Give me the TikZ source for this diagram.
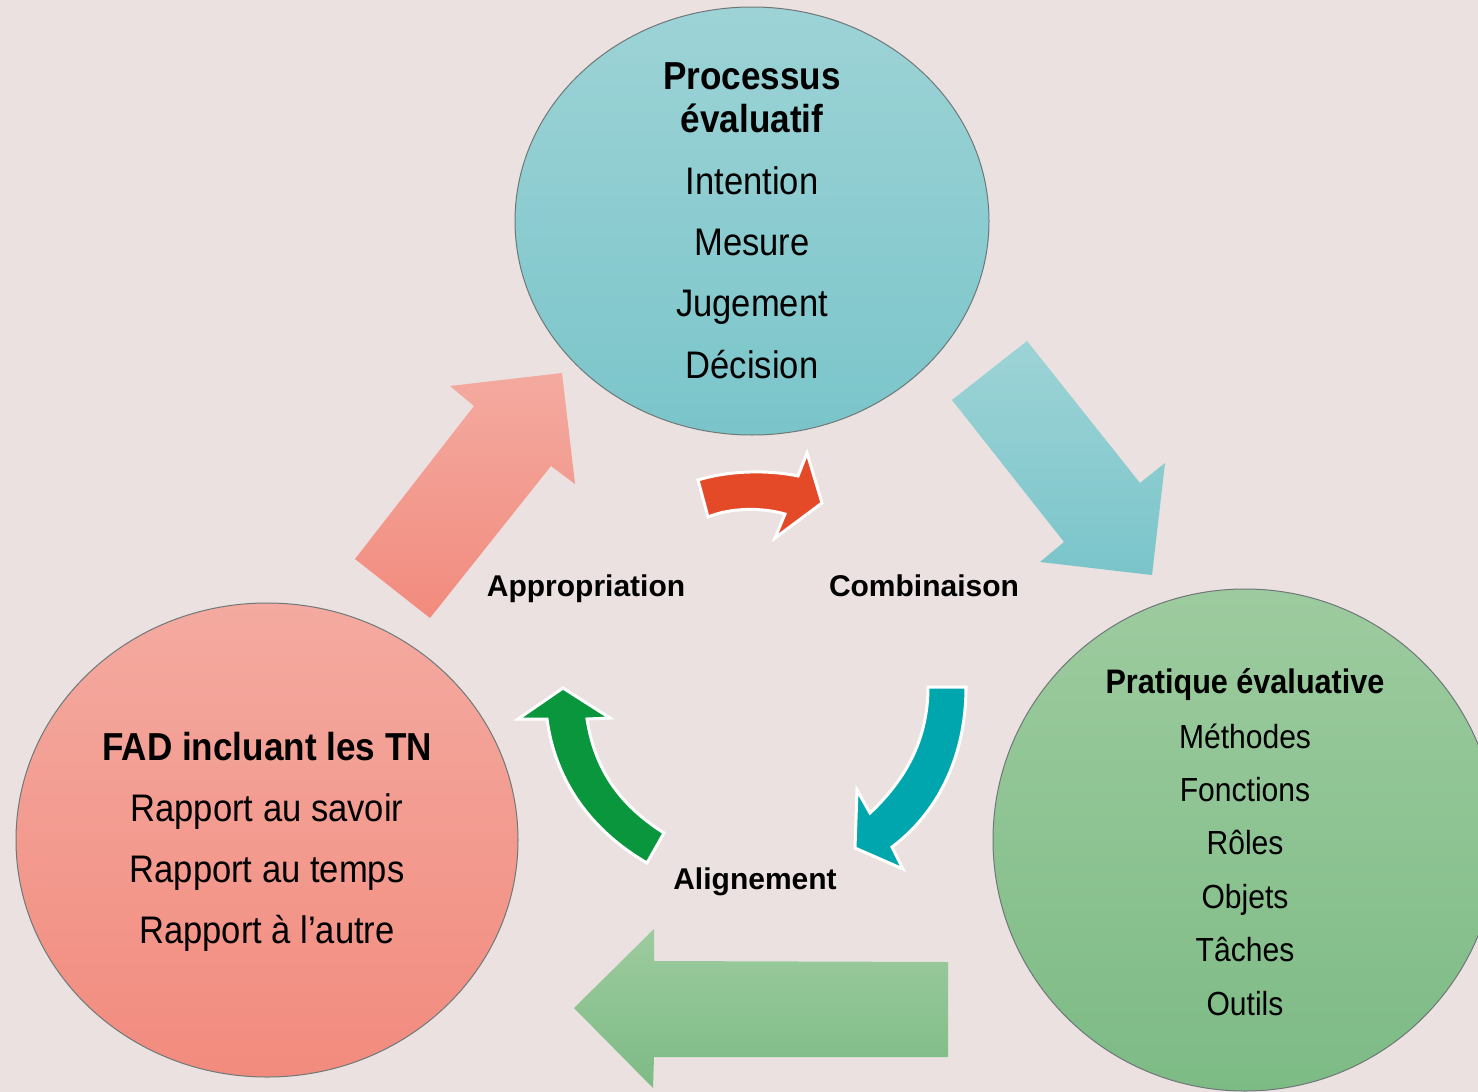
\documentclass[tikz,border=0pt]{standalone}
\usepackage{fontspec}
\setmainfont{Liberation Sans}
\newfontfamily\narrowfont[FakeStretch=0.9]{Liberation Sans}
\newfontfamily\labelfont{Liberation Sans}
\definecolor{bgc}{RGB}{234,225,224}
\definecolor{tealtop}{RGB}{157,211,214}
\definecolor{tealbot}{RGB}{122,197,202}
\definecolor{pinktop}{RGB}{244,170,160}
\definecolor{pinkbot}{RGB}{242,139,126}
\definecolor{greentop}{RGB}{157,203,159}
\definecolor{greenbot}{RGB}{125,187,133}
\definecolor{redarrow}{RGB}{228,74,39}
\definecolor{greenarrow}{RGB}{10,150,60}
\definecolor{tealarrow}{RGB}{0,166,174}
\definecolor{rimc}{RGB}{110,120,120}
\tikzset{
  bubble/.style={draw=rimc, line width=0.5pt},
  bigarrow/.style={draw=none},
  smallarrow/.style={draw=white, line width=1.5pt, line join=miter},
  reg/.style={font=\narrowfont\fontsize{19.2}{22}\selectfont, anchor=base, inner sep=0pt},
  hd/.style={font=\narrowfont\bfseries\fontsize{19.5}{22}\selectfont, anchor=base, inner sep=0pt},
  greg/.style={font=\narrowfont\fontsize{16.7}{20}\selectfont, anchor=base, inner sep=0pt},
  ghd/.style={font=\narrowfont\bfseries\fontsize{17}{20}\selectfont, anchor=base, inner sep=0pt},
  lbl/.style={font=\labelfont\bfseries\fontsize{15}{18}\selectfont, anchor=base, inner sep=0pt}
}
\begin{document}
\begin{tikzpicture}[x=0.5pt,y=-0.5pt]
\clip (0,0) rectangle (1478,1092);
\fill[bgc] (0,0) rectangle (1478,1092);

% circles
\shade[bubble, top color=tealtop, bottom color=tealbot] (752,221) ellipse [x radius=237, y radius=214];
\shade[bubble, top color=pinktop, bottom color=pinkbot] (267,840) ellipse [x radius=251, y radius=237];
\shade[bubble, top color=greentop, bottom color=greenbot] (1245,840) ellipse [x radius=252, y radius=251];

% big arrows
\shade[bigarrow, top color=pinktop, bottom color=pinkbot]
  (355,559) -- (474,406) -- (450,386) -- (562,373) -- (575,484) -- (551,466) -- (430,618) -- cycle;
\shade[bigarrow, top color=tealtop, bottom color=tealbot]
  (1027,341) -- (1140,483) -- (1165,463) -- (1152,575) -- (1040,562) -- (1064,542) -- (952,400) -- cycle;
\shade[bigarrow, top color=greentop, bottom color=greenbot]
  (574,1008) -- (654,929) -- (654,961) -- (948,962) -- (948,1057) -- (654,1057) -- (653,1088) -- cycle;

% small curved arrows
\filldraw[smallarrow, fill=redarrow]
  (698,480) .. controls (730,470) and (770,470) .. (798,476) -- (807,453) -- (822,503) -- (775,538) -- (785,514)
  .. controls (760,507) and (730,508) .. (708,517) -- cycle;
\filldraw[smallarrow, fill=greenarrow]
  (563,688) -- (610,718) -- (587,719) .. controls (595,770) and (620,805) .. (664,833) -- (647,863)
  .. controls (590,830) and (555,780) .. (547,719) -- (518,719) -- cycle;
\filldraw[smallarrow, fill=tealarrow]
  (928,687) -- (966,687) .. controls (966,760) and (935,815) .. (892,847) -- (903,869) -- (855,848) -- (857,790) -- (870,813)
  .. controls (905,780) and (928,740) .. (928,687) -- cycle;

% top circle text
\node[hd] (p1) at (752,89) {Processus};
\node[hd] (p2) at (752,132) {évaluatif};
\node[reg] (p3) at (752,194) {Intention};
\node[reg] (p4) at (752,255) {Mesure};
\node[reg] (p5) at (752,316) {Jugement};
\node[reg] (p6) at (752,378) {Décision};

% left circle text
\node[hd] (f1) at (267,760) {FAD incluant les TN};
\node[reg] (f2) at (267,821) {Rapport au savoir};
\node[reg] (f3) at (267,882) {Rapport au temps};
\node[reg] (f4) at (267,943) {Rapport à l’autre};

% right circle text
\node[ghd] (g1) at (1245,693) {Pratique évaluative};
\node[greg] (g2) at (1245,748) {Méthodes};
\node[greg] (g3) at (1245,801) {Fonctions};
\node[greg] (g4) at (1245,854) {Rôles};
\node[greg] (g5) at (1245,908) {Objets};
\node[greg] (g6) at (1245,961) {Tâches};
\node[greg] (g7) at (1245,1015) {Outils};

% labels
\node[lbl] (l1) at (586,596) {Appropriation};
\node[lbl] (l2) at (924,596) {Combinaison};
\node[lbl] (l3) at (755,889) {Alignement};
\end{tikzpicture}
\end{document}
